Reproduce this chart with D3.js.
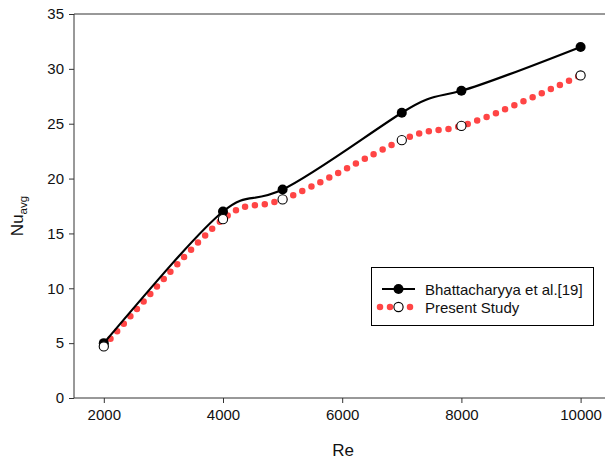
<!DOCTYPE html>
<html><head><meta charset="utf-8">
<script src="https://cdn.jsdelivr.net/npm/d3@7"></script>
<style>body{margin:0;background:#fff}svg{display:block}text{font-family:"Liberation Sans",Arial,sans-serif}</style>
</head><body>
<svg id="c" width="605" height="460"></svg>
<script>
const reValues = [2000, 4000, 5000, 7000, 8000, 10000];
const bhattacharyya = [5, 17, 19, 26, 28, 32];
const present = [4.7, 16.3, 18.1, 23.5, 24.8, 29.4];
const xTicks = [2000, 4000, 6000, 8000, 10000];
const yTicks = [0, 5, 10, 15, 20, 25, 30, 35];
const seriesNames = ["Bhattacharyya et al.[19]", "Present Study"];

const svg = d3.select("#c");
const x = d3.scaleLinear().domain([1500, 10500]).range([74, 610.4]);
const y = d3.scaleLinear().domain([0, 35]).range([398, 14]);
const axisColor = "#333";

svg.append("line").attr("x1", 74).attr("x2", 605).attr("y1", 14).attr("y2", 14)
  .attr("stroke", axisColor).attr("stroke-width", 1);

const gx = svg.append("g").attr("transform", "translate(0,398)")
  .call(d3.axisBottom(x).tickValues(xTicks).tickSize(5).tickPadding(6).tickFormat(d3.format("d")));
const gy = svg.append("g").attr("transform", "translate(74,0)")
  .call(d3.axisLeft(y).tickValues(yTicks).tickSize(5).tickPadding(5));
[gx, gy].forEach(g => {
  g.selectAll("path,line").attr("stroke", axisColor).attr("stroke-width", 1);
  g.selectAll("text").attr("font-size", 15).attr("fill", "#111").attr("font-family", '"Liberation Sans",Arial,sans-serif');
  g.select(".domain").attr("d", null);
});
gx.append("line").attr("x1", 74).attr("x2", 605).attr("stroke", axisColor);
gy.append("line").attr("y1", 14).attr("y2", 398).attr("stroke", axisColor);

svg.append("text").attr("x", 343).attr("y", 456).attr("text-anchor", "middle")
  .attr("font-size", 17).attr("fill", "#111").text("Re");
const yl = svg.append("text").attr("transform", "translate(23,216) rotate(-90)")
  .attr("text-anchor", "middle").attr("font-size", 17).attr("fill", "#111");
yl.append("tspan").text("Nu");
yl.append("tspan").attr("font-size", 11.5).attr("dy", 4).text("avg");

const line = d3.line().x(d => x(d[0])).y(d => y(d[1])).curve(d3.curveNatural);
const bData = reValues.map((r, i) => [r, bhattacharyya[i]]);
const pData = reValues.map((r, i) => [r, present[i]]);

svg.append("path").datum(pData).attr("d", line).attr("fill", "none")
  .attr("stroke", "#ff4545").attr("stroke-width", 6.5).attr("stroke-linecap", "round")
  .attr("stroke-dasharray", "0 10");
svg.append("path").datum(bData).attr("d", line).attr("fill", "none")
  .attr("stroke", "#000").attr("stroke-width", 2.2);

svg.selectAll(".bm").data(bData).enter().append("circle")
  .attr("cx", d => x(d[0])).attr("cy", d => y(d[1])).attr("r", 5).attr("fill", "#000");
svg.selectAll(".pm").data(pData).enter().append("circle")
  .attr("cx", d => x(d[0])).attr("cy", d => y(d[1])).attr("r", 4.6)
  .attr("fill", "#fff").attr("stroke", "#000").attr("stroke-width", 1.1);

const lg = svg.append("g");
lg.append("rect").attr("x", 371.5).attr("y", 267.5).attr("width", 222).attr("height", 58)
  .attr("fill", "#fff").attr("stroke", "#000").attr("stroke-width", 1);
lg.append("line").attr("x1", 382).attr("x2", 415).attr("y1", 289).attr("y2", 289)
  .attr("stroke", "#000").attr("stroke-width", 2.2);
lg.append("circle").attr("cx", 398.5).attr("cy", 289).attr("r", 5).attr("fill", "#000");
lg.append("line").attr("x1", 380).attr("x2", 413).attr("y1", 307).attr("y2", 307)
  .attr("stroke", "#ff4545").attr("stroke-width", 6.5).attr("stroke-linecap", "round")
  .attr("stroke-dasharray", "0 10");
lg.append("circle").attr("cx", 398.5).attr("cy", 307).attr("r", 4.6)
  .attr("fill", "#fff").attr("stroke", "#000").attr("stroke-width", 1.1);
lg.selectAll(".lt").data(seriesNames).enter().append("text")
  .attr("x", 425).attr("y", (d, i) => 294.5 + i * 18).attr("font-size", 15).attr("fill", "#111").text(d => d);
</script>
</body></html>
